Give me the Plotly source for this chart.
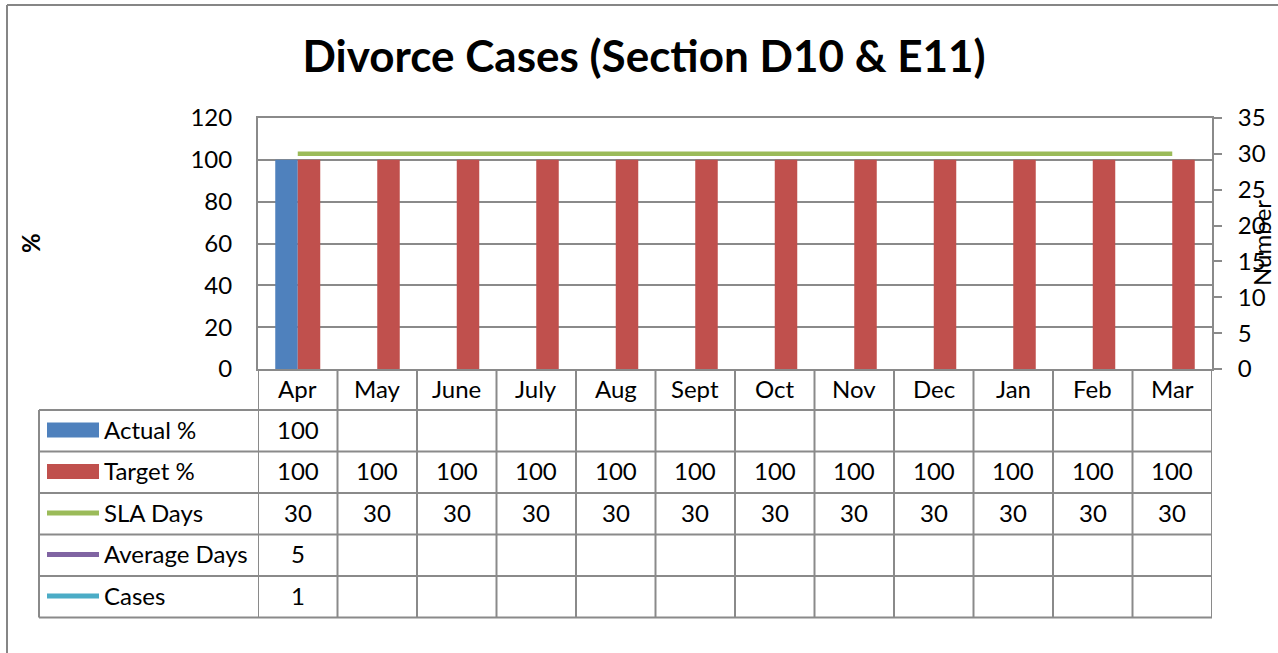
import plotly.graph_objects as go

# ---------------- data ----------------
months = ["Apr", "May", "June", "July", "Aug", "Sept", "Oct", "Nov", "Dec", "Jan", "Feb", "Mar"]
actual_pct = [100, None, None, None, None, None, None, None, None, None, None, None]
target_pct = [100, 100, 100, 100, 100, 100, 100, 100, 100, 100, 100, 100]
sla_days = [30, 30, 30, 30, 30, 30, 30, 30, 30, 30, 30, 30]
average_days = [5, None, None, None, None, None, None, None, None, None, None, None]
cases = [1, None, None, None, None, None, None, None, None, None, None, None]

series_names = ["Actual %", "Target %", "SLA Days", "Average Days", "Cases"]
series_values = [actual_pct, target_pct, sla_days, average_days, cases]
series_colors = ["#4F81BD", "#C0504D", "#9BBB59", "#8064A2", "#4BACC6"]
series_kind = ["bar", "bar", "line", "line", "line"]

title_text = "Divorce Cases (Section D10 & E11)"

# ---------------- geometry ----------------
W, H = 1278, 653
L, R, T, B = 258, 1212, 118, 369
FONT = "Lato"
FS = 24
GRID = "#8a8a8a"


def px(xp):
    return (xp - L) / (R - L)


def py(yp):
    return (B - yp) / (B - T)


fig = go.Figure()
for name, vals, col, kind in zip(series_names, series_values, series_colors, series_kind):
    if kind == "bar":
        fig.add_trace(go.Bar(x=months, y=vals, name=name, marker=dict(color=col, line=dict(width=0)),
                             yaxis="y", showlegend=False))
    else:
        fig.add_trace(go.Scatter(x=months, y=vals, name=name, mode="lines",
                                 line=dict(color=col, width=4.5), yaxis="y2", showlegend=False))

shapes = []
annotations = []

# outer chart border (left and top visible)
shapes.append(dict(type="line", xref="paper", yref="paper", x0=px(7), x1=px(1300), y0=py(5), y1=py(5),
                   line=dict(color="#868686", width=2)))
shapes.append(dict(type="line", xref="paper", yref="paper", x0=px(7), x1=px(7), y0=py(5), y1=py(700),
                   line=dict(color="#868686", width=2)))

# data table grid
row_lines = [410, 451.5, 493, 534.5, 576, 617.5]
for yl in row_lines:
    shapes.append(dict(type="line", xref="paper", yref="paper", x0=px(39), x1=px(R), y0=py(yl), y1=py(yl),
                       line=dict(color=GRID, width=2)))
shapes.append(dict(type="line", xref="paper", yref="paper", x0=px(39), x1=px(39), y0=py(410), y1=py(617.5),
                   line=dict(color=GRID, width=2)))
for i in range(len(months) + 1):
    shapes.append(dict(type="line", xref="x", yref="paper", x0=i - 0.5, x1=i - 0.5, y0=py(B), y1=py(617.5),
                       line=dict(color=GRID, width=2)))

# table rows: legend keys, labels, values
row_centers = [430, 471.5, 513, 554.5, 596]
for name, vals, col, kind, yc in zip(series_names, series_values, series_colors, series_kind, row_centers):
    if kind == "bar":
        shapes.append(dict(type="rect", xref="paper", yref="paper", x0=px(47), x1=px(99),
                           y0=py(yc - 7.5), y1=py(yc + 7.5), fillcolor=col, line=dict(width=0)))
    else:
        shapes.append(dict(type="line", xref="paper", yref="paper", x0=px(47), x1=px(99),
                           y0=py(yc), y1=py(yc), line=dict(color=col, width=5)))
    annotations.append(dict(xref="paper", yref="paper", x=px(102), y=py(yc - 1), xanchor="left", yanchor="middle",
                            text=name, showarrow=False, font=dict(family=FONT, size=FS, color="black")))
    for m, v in zip(months, vals):
        if v is None:
            continue
        annotations.append(dict(xref="x", yref="paper", x=m, y=py(yc - 1), xanchor="center", yanchor="middle",
                                text=str(v), showarrow=False, font=dict(family=FONT, size=FS, color="black")))

# month header row
for m in months:
    annotations.append(dict(xref="x", yref="paper", x=m, y=py(388), xanchor="center", yanchor="middle",
                            text=m, showarrow=False, font=dict(family=FONT, size=FS, color="black")))

# axis titles
annotations.append(dict(xref="paper", yref="paper", x=px(30), y=py(243), xanchor="center", yanchor="middle",
                        text="<b>%</b>", textangle=-90, showarrow=False,
                        font=dict(family=FONT, size=FS, color="black")))
annotations.append(dict(xref="paper", yref="paper", x=px(1261), y=py(243), xanchor="center", yanchor="middle",
                        text="Number", textangle=-90, showarrow=False,
                        font=dict(family=FONT, size=FS, color="black")))

fig.update_layout(
    width=W, height=H,
    margin=dict(l=L, r=W - R, t=T, b=H - B),
    paper_bgcolor="white", plot_bgcolor="white",
    font=dict(family=FONT, size=FS, color="black"),
    title=dict(text="<b>" + title_text + "</b>", x=644 / W, xanchor="center", y=1 - 57 / H, yanchor="middle",
               xref="container", yref="container",
               font=dict(family=FONT, size=44, color="black")),
    barmode="group", bargap=0.434, bargroupgap=0,
    showlegend=False,
    xaxis=dict(type="category", range=[-0.5, len(months) - 0.5], showgrid=False, showticklabels=False,
               showline=True, linecolor=GRID, linewidth=2, mirror=True, ticks="", zeroline=False),
    yaxis=dict(range=[0, 120], dtick=20, showgrid=True, gridcolor=GRID, gridwidth=1.5,
               showline=True, linecolor=GRID, linewidth=2, mirror=True, ticks="",
               ticklabelstandoff=19, zeroline=False, tickfont=dict(family=FONT, size=FS, color="black")),
    yaxis2=dict(range=[0, 35], dtick=5, overlaying="y", side="right", showgrid=False,
                showline=True, linecolor=GRID, linewidth=2, ticks="outside", ticklen=8, tickcolor=GRID,
                tickwidth=2, ticklabelstandoff=11, zeroline=False,
                tickfont=dict(family=FONT, size=FS, color="black")),
    shapes=shapes,
    annotations=annotations,
)

fig.write_html("out.html", config={"displayModeBar": False},
               post_script="document.body.style.margin='0';document.body.style.overflow='hidden';")
